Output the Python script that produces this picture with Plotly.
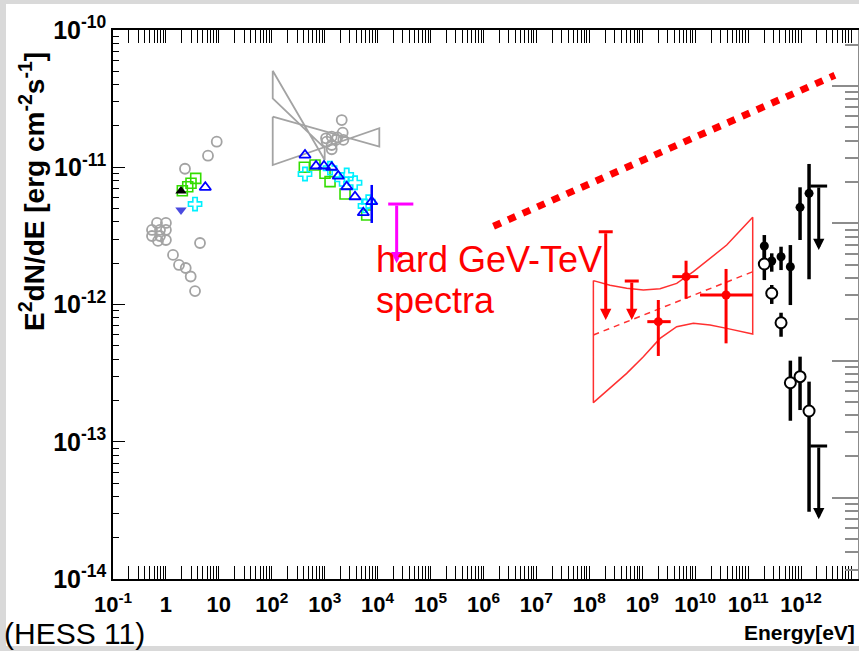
import plotly.graph_objects as go

# ---------------- data: log10(E / eV), log10(E^2 dN/dE / erg cm^-2 s^-1) ----------------
# grey archival radio/optical points (open circles)
gray_opt_logE = [0.96, 0.795, 0.36, -0.263, -0.263, -0.169, -0.112, -0.112, 0.0, 0.0, 0.0, -0.15,
                 0.644, 0.134, 0.247, 0.374, 0.468, 0.55]
gray_opt_logF = [-10.814, -10.916, -11.011, -11.457, -11.501, -11.406, -11.457, -11.501, -11.406,
                 -11.457, -11.530, -11.537, -11.552, -11.639, -11.712, -11.734, -11.796, -11.902]
# grey archival X-ray points
gray_x_logE = [3.322, 3.025, 3.133, 3.238, 3.340, 3.038, 3.133, 3.214, 3.352, 3.133]
gray_x_logF = [-10.656, -10.789, -10.777, -10.782, -10.748, -10.814, -10.838, -10.801, -10.801, -10.869]
# grey X-ray bow-ties: [E_left, E_right], [F_left_top, F_left_bottom, F_right_top, F_right_bottom]
bowA_logE = [2.018, 3.0]
bowA_logF = [-10.297, -10.498, -10.860, -10.947]
bowB_logE = [2.018, 4.032]
bowB_logF = [-10.632, -10.984, -10.716, -10.850]

# coloured optical / X-ray series
green_logE = [0.310, 0.412, 0.474, 0.563, 2.615, 2.817, 3.006, 3.101, 3.384, 3.794]
green_logF = [-11.171, -11.142, -11.117, -11.081, -11.000, -10.984, -11.044, -11.105, -11.195, -11.348]
cyan_logE = [0.55, 2.628, 3.101, 3.322, 3.416, 3.573, 3.762, 3.824]
cyan_logF = [-11.268, -11.049, -11.007, -11.088, -11.056, -11.113, -11.282, -11.251]
blue_logE = [0.744, 2.628, 2.836, 2.987, 3.133, 3.257, 3.416, 3.573, 3.730, 3.889]
blue_logF = [-11.146, -10.911, -10.991, -10.991, -11.000, -11.064, -11.142, -11.215, -11.331, -11.251]
blue_logF_hi = [-11.146, -10.911, -10.991, -10.991, -11.000, -11.064, -11.142, -11.215, -11.331, -11.129]
blue_logF_lo = [-11.146, -10.911, -10.991, -10.991, -11.000, -11.064, -11.142, -11.215, -11.331, -11.406]
black_tri_logE = [0.285]
black_tri_logF = [-11.173]
violet_logE = [0.285]
violet_logF = [-11.311]

# magenta upper limit
mag_ul_logE = [4.36]
mag_ul_logE_lo = [4.20]
mag_ul_logE_hi = [4.675]
mag_ul_logF = [-11.268]
mag_ul_tip = [-11.70]

# "hard GeV-TeV spectra" dotted line
hard_logE = [6.19, 12.64]
hard_logF = [-11.43, -10.33]

# Fermi-LAT (red)
fermi_logE = [9.304, 9.828, 10.584]
fermi_logE_lo = [9.096, 9.569, 10.092]
fermi_logE_hi = [9.538, 10.060, 11.088]
fermi_logF = [-12.125, -11.797, -11.931]
fermi_logF_lo = [-12.375, -11.958, -12.283]
fermi_logF_hi = [-11.967, -11.681, -11.741]
fermi_ul_logE = [8.31, 8.802]
fermi_ul_logF = [-11.470, -11.829]
fermi_ul_tip = [-12.113, -12.113]
# Fermi butterfly
bf_logE = [8.0767, 8.3915, 8.7065, 9.0214, 9.3364, 9.6514, 9.9664, 10.2813, 10.5963, 11.0876]
bf_upper = [-11.826, -11.860, -11.882, -11.894, -11.885, -11.846, -11.761, -11.664, -11.567, -11.365]
bf_lower = [-12.715, -12.611, -12.502, -12.380, -12.247, -12.162, -12.137, -12.149, -12.174, -12.215]
bf_best_logE = [8.0767, 11.0876]
bf_best_logF = [-12.222, -11.761]

# H.E.S.S. (black)
hess_logE = [11.307, 11.447, 11.623, 11.799, 11.982, 12.152]
hessA_logF = [-11.574, -11.683, -11.652, -11.725, -11.292, -11.190]
hessA_lo = [-11.688, -11.761, -11.749, -12.004, -11.530, -11.816]
hessA_hi = [-11.494, -11.627, -11.579, -11.567, -11.146, -10.976]
hessB_logF = [-11.705, -11.918, -12.133, -12.570, -12.526, -12.776]
hessB_lo = [-11.822, -11.996, -12.235, -12.847, -12.769, -13.510]
hessB_hi = [-11.603, -11.858, -12.060, -12.409, -12.380, -12.562]
hess_ul_logE = [12.335, 12.335]
hess_ul_logF = [-11.137, -13.031]
hess_ul_tip = [-11.603, -13.565]

# axis ticks
x_decades = list(range(-1, 13))
x_ticktext = ["10<sup>-1</sup>", "1", "10"] + ["10<sup>%d</sup>" % k for k in range(2, 13)]
y_decades = list(range(-14, -9))
y_ticktext = ["10<sup>%d</sup>" % k for k in y_decades]

# ---------------- layout geometry ----------------
W, H = 859, 651
L, R, T, B = 113, 858, 30, 579


def P(px, py):
    return (px - L) / (R - L), (B - py) / (B - T)


def lin(a):
    return [10 ** v for v in a]


def up(v, hi):
    return [10 ** h - 10 ** c for c, h in zip(v, hi)]


def dn(v, lo):
    return [10 ** c - 10 ** l for c, l in zip(v, lo)]


GRAY = "#a3a3a3"
RED = "#ff0000"
fig = go.Figure()


def bowtie(le, lf):
    xs = [le[0], le[1], le[1], le[0], le[0]]
    ys = [lf[0], lf[3], lf[2], lf[1], lf[0]]
    return lin(xs), lin(ys)


for le, lf in [(bowA_logE, bowA_logF), (bowB_logE, bowB_logF)]:
    bx, by = bowtie(le, lf)
    fig.add_trace(go.Scatter(x=bx, y=by, mode="lines", line=dict(color=GRAY, width=1.8)))

fig.add_trace(go.Scatter(x=lin(gray_opt_logE + gray_x_logE), y=lin(gray_opt_logF + gray_x_logF),
                         mode="markers",
                         marker=dict(symbol="circle-open", size=10, color=GRAY, line=dict(width=1.8))))

fig.add_trace(go.Scatter(x=lin(green_logE), y=lin(green_logF), mode="markers",
                         marker=dict(symbol="square-open", size=10, color="#33dd00", line=dict(width=1.6))))
fig.add_trace(go.Scatter(x=lin(cyan_logE), y=lin(cyan_logF), mode="markers",
                         marker=dict(symbol="cross-open", size=11, color="#00f0ff", line=dict(width=1.6))))
fig.add_trace(go.Scatter(x=lin(blue_logE), y=lin(blue_logF), mode="markers",
                         error_y=dict(type="data", symmetric=False, array=up(blue_logF, blue_logF_hi),
                                      arrayminus=dn(blue_logF, blue_logF_lo), color="#0000ff",
                                      thickness=2.5, width=0),
                         marker=dict(symbol="triangle-up-open", size=10, color="#0000ff", line=dict(width=1.8))))
fig.add_trace(go.Scatter(x=lin(black_tri_logE), y=lin(black_tri_logF), mode="markers",
                         marker=dict(symbol="triangle-up", size=10, color="black")))
fig.add_trace(go.Scatter(x=lin(violet_logE), y=lin(violet_logF), mode="markers",
                         marker=dict(symbol="triangle-down", size=10, color="#4a4ae0")))

# magenta upper limit
fig.add_trace(go.Scatter(x=lin(mag_ul_logE), y=lin(mag_ul_logF), mode="markers",
                         marker=dict(size=1, color="#ff00ff", opacity=0),
                         error_x=dict(type="data", symmetric=False, array=up(mag_ul_logE, mag_ul_logE_hi),
                                      arrayminus=dn(mag_ul_logE, mag_ul_logE_lo), color="#ff00ff",
                                      thickness=3, width=0)))

# dotted "hard" line
fig.add_trace(go.Scatter(x=lin(hard_logE), y=lin(hard_logF), mode="lines",
                         line=dict(color=RED, width=7, dash="8px,8px")))

# Fermi butterfly
bfx = bf_logE + bf_logE[::-1] + [bf_logE[0]]
bfy = bf_upper + bf_lower[::-1] + [bf_upper[0]]
fig.add_trace(go.Scatter(x=lin(bfx), y=lin(bfy), mode="lines",
                         line=dict(color="#ff3030", width=1.5)))
fig.add_trace(go.Scatter(x=lin(bf_best_logE), y=lin(bf_best_logF), mode="lines",
                         line=dict(color="#ff3030", width=1.5, dash="6px,5px")))
fig.add_trace(go.Scatter(x=lin(fermi_logE), y=lin(fermi_logF), mode="markers",
                         marker=dict(symbol="circle", size=9, color=RED),
                         error_x=dict(type="data", symmetric=False, array=up(fermi_logE, fermi_logE_hi),
                                      arrayminus=dn(fermi_logE, fermi_logE_lo), color=RED,
                                      thickness=3, width=0),
                         error_y=dict(type="data", symmetric=False, array=up(fermi_logF, fermi_logF_hi),
                                      arrayminus=dn(fermi_logF, fermi_logF_lo), color=RED,
                                      thickness=3, width=0)))
fig.add_trace(go.Scatter(x=lin(fermi_ul_logE), y=lin(fermi_ul_logF), mode="markers",
                         marker=dict(symbol="line-ew", size=10, color=RED, line=dict(width=3, color=RED))))

# HESS
fig.add_trace(go.Scatter(x=lin(hess_logE), y=lin(hessA_logF), mode="markers",
                         marker=dict(symbol="circle", size=9, color="black"),
                         error_y=dict(type="data", symmetric=False, array=up(hessA_logF, hessA_hi),
                                      arrayminus=dn(hessA_logF, hessA_lo), color="black",
                                      thickness=3.5, width=0)))
fig.add_trace(go.Scatter(x=lin(hess_logE), y=lin(hessB_logF), mode="markers",
                         marker=dict(symbol="circle", size=11, color="white", line=dict(width=2, color="black")),
                         error_y=dict(type="data", symmetric=False, array=up(hessB_logF, hessB_hi),
                                      arrayminus=dn(hessB_logF, hessB_lo), color="black",
                                      thickness=3.5, width=0)))
fig.add_trace(go.Scatter(x=lin(hess_ul_logE), y=lin(hess_ul_logF), mode="markers",
                         marker=dict(symbol="line-ew", size=12, color="black", line=dict(width=3, color="black"))))

# empty trace for the right-hand axis
fig.add_trace(go.Scatter(x=[], y=[], yaxis="y2"))

# upper-limit arrows
ul_sets = [
    (mag_ul_logE, mag_ul_logF, mag_ul_tip, "#ff00ff"),
    (fermi_ul_logE, fermi_ul_logF, fermi_ul_tip, RED),
    (hess_ul_logE, hess_ul_logF, hess_ul_tip, "black"),
]
for xs, caps, tips, col in ul_sets:
    for xe, yc, yt in zip(xs, caps, tips):
        fig.add_annotation(x=xe, y=yt, ax=xe, ay=yc, xref="x", yref="y", axref="x", ayref="y",
                           text="", showarrow=True, arrowhead=2, arrowsize=0.75, arrowwidth=3,
                           arrowcolor=col, standoff=0)

FONT = "Liberation Sans, Arial, Helvetica, sans-serif"

# text
x0, y0 = P(374, 259)
fig.add_annotation(x=x0, y=y0, xref="paper", yref="paper", text="hard GeV-TeV", showarrow=False,
                   xanchor="left", yanchor="middle", font=dict(family=FONT, size=36, color=RED))
x0, y0 = P(374, 300)
fig.add_annotation(x=x0, y=y0, xref="paper", yref="paper", text="spectra", showarrow=False,
                   xanchor="left", yanchor="middle", font=dict(family=FONT, size=36, color=RED))
x0, y0 = P(3, 633)
fig.add_annotation(x=x0, y=y0, xref="paper", yref="paper", text="(HESS 11)", showarrow=False,
                   xanchor="left", yanchor="middle", borderpad=0,
                   font=dict(family=FONT, size=30, color="black"))
x0, y0 = P(857, 632)
fig.add_annotation(x=x0, y=y0, xref="paper", yref="paper", text="Energy[eV]", showarrow=False,
                   xanchor="right", yanchor="middle",
                   font=dict(family=FONT, size=21, color="black", weight="bold"))
x0, y0 = P(32, 192)
fig.add_annotation(x=x0, y=y0, xref="paper", yref="paper",
                   text="E<sup>2</sup>dN/dE [erg cm<sup>-2</sup>s<sup>-1</sup>]", showarrow=False,
                   textangle=-90, xanchor="center", yanchor="middle",
                   font=dict(family=FONT, size=28, color="black", weight="bold"))

# background panel
bx0, by0 = P(6, 646)
bx1, by1 = P(862, 4)
fig.add_shape(type="rect", xref="paper", yref="paper", x0=bx0, y0=by0, x1=bx1, y1=by1,
              fillcolor="white", line=dict(width=0), layer="below")

x_minor = [m * 10.0 ** k for k in range(-1, 14) for m in range(2, 10)]
y_minor = [m * 10.0 ** k for k in range(-15, -9) for m in range(2, 10)]

fig.update_layout(
    width=W, height=H,
    margin=dict(l=L, r=W - R, t=T, b=H - B, pad=0),
    paper_bgcolor="#d9d9d9", plot_bgcolor="white",
    showlegend=False,
    xaxis=dict(type="log", range=[-1.0, 13.077], tickmode="array",
               tickvals=[10.0 ** k for k in x_decades], ticktext=x_ticktext,
               ticks="inside", ticklen=13, tickwidth=1.2, tickcolor="black",
               showline=True, linecolor="black", linewidth=1.5, mirror="allticks",
               showgrid=False, zeroline=False, ticklabelstandoff=5,
               tickfont=dict(family=FONT, size=22, color="black", weight="bold"),
               minor=dict(tickmode="array", tickvals=x_minor, ticks="inside", ticklen=6,
                          tickwidth=1, tickcolor="black", showgrid=False)),
    yaxis=dict(type="log", range=[-14.0, -10.0], tickmode="array",
               tickvals=[10.0 ** k for k in y_decades], ticktext=y_ticktext,
               ticks="inside", ticklen=12, tickwidth=1.2, tickcolor="black",
               showline=True, linecolor="black", linewidth=1.5, mirror=False,
               showgrid=False, zeroline=False,
               tickfont=dict(family=FONT, size=25, color="black", weight="bold"),
               minor=dict(tickmode="array", tickvals=y_minor, ticks="inside", ticklen=6,
                          tickwidth=1, tickcolor="black", showgrid=False)),
    yaxis2=dict(type="log", overlaying="y", side="right", range=[-13.592, -9.592],
                tickmode="array", tickvals=[10.0 ** k for k in range(-14, -8)],
                ticks="inside", ticklen=26, tickwidth=1.5, tickcolor="#8c8c8c",
                showticklabels=False, showline=True, linecolor="#8c8c8c", linewidth=1.5,
                showgrid=False, zeroline=False,
                minor=dict(tickmode="array", tickvals=[m * 10.0 ** k for k in range(-15, -8) for m in range(2, 10)],
                           ticks="inside", ticklen=13, tickwidth=1.5, tickcolor="#8c8c8c", showgrid=False)),
)

fig.write_html("out.html")
